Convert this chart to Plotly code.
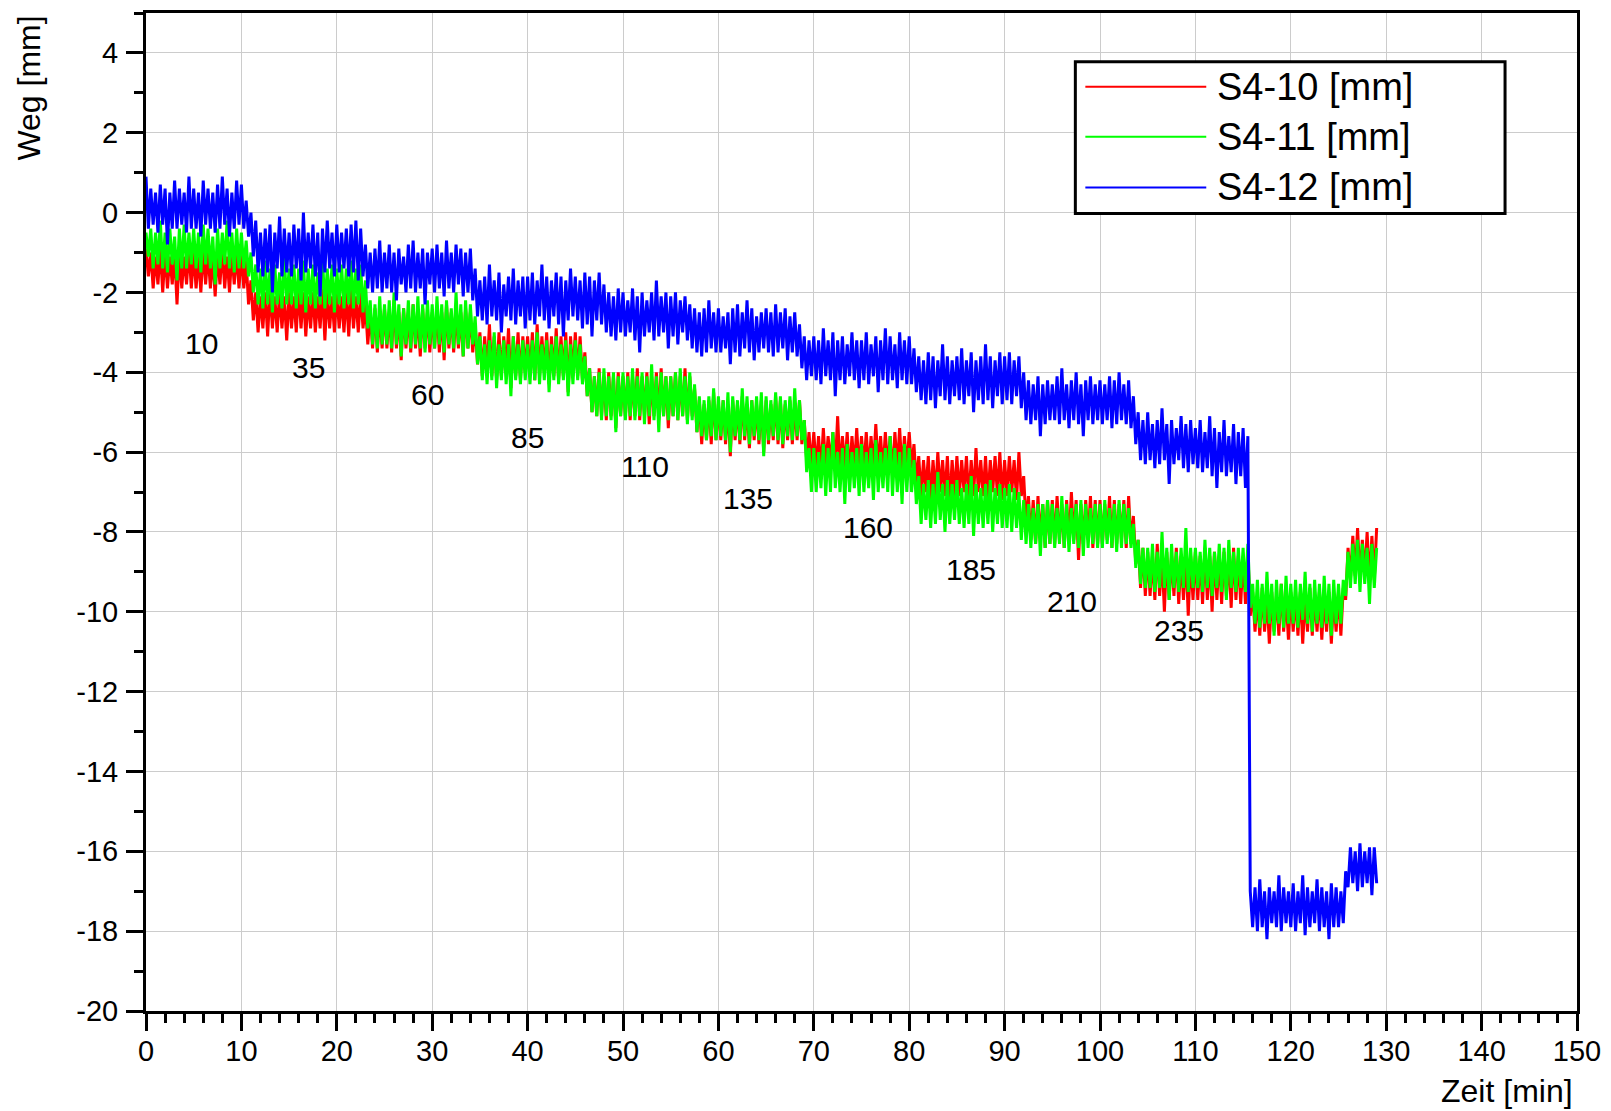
import numpy as np
import plotly.graph_objects as go

# Sampling interval of the displacement recordings (minutes)
SAMPLE_STEP_MIN = 0.25

# Displacement S4-10 [mm], one row = 5 min of samples
s4_10 = [
    -0.9, -1.6, -1.0, -1.9, -1.1, -1.8, -0.9, -2.0, -1.0, -1.9, -1.1, -1.8, -1.0, -2.3, -1.0, -1.9, -1.1, -1.8, -0.9, -1.9,
    -1.0, -1.9, -1.1, -2.0, -0.9, -1.8, -1.0, -1.9, -1.1, -2.1, -1.0, -1.8, -0.9, -1.9, -1.1, -2.0, -1.0, -1.8, -1.0, -1.9,
    -1.0, -1.9, -1.2, -2.3, -1.7, -2.7, -2.0, -3.0, -2.1, -2.9, -2.0, -3.1, -1.9, -2.9, -2.1, -3.0, -2.0, -2.9, -2.1, -3.2,
    -2.0, -2.9, -2.1, -3.0, -1.9, -2.9, -2.0, -3.1, -2.1, -2.9, -2.0, -3.0, -2.1, -2.9, -1.9, -3.2, -2.0, -2.9, -2.1, -3.0,
    -2.0, -2.9, -2.1, -3.0, -2.0, -3.1, -1.9, -2.9, -2.1, -3.0, -2.0, -2.9, -2.3, -3.3, -2.5, -3.4, -2.4, -3.5, -2.5, -3.4,
    -2.4, -3.4, -2.5, -3.5, -2.2, -3.4, -2.5, -3.7, -2.4, -3.4, -2.5, -3.5, -2.3, -3.4, -2.5, -3.6, -2.4, -3.4, -2.5, -3.5,
    -2.5, -3.4, -2.4, -3.5, -2.5, -3.7, -2.3, -3.4, -2.5, -3.5, -2.4, -3.4, -2.5, -3.6, -2.4, -3.4, -2.5, -3.5, -2.8, -3.8,
    -3.0, -4.1, -3.1, -4.0, -2.8, -4.1, -3.1, -4.2, -3.0, -4.1, -3.1, -4.0, -2.9, -4.4, -3.1, -4.1, -3.0, -4.2, -3.1, -4.0,
    -3.1, -4.1, -3.0, -4.2, -2.8, -4.1, -3.1, -4.0, -3.0, -4.3, -3.1, -4.1, -2.9, -4.2, -3.1, -4.1, -3.0, -4.5, -3.1, -4.1,
    -3.0, -4.1, -3.1, -4.2, -3.5, -4.6, -3.9, -5.0, -4.1, -5.1, -3.9, -5.1, -4.1, -5.2, -4.0, -5.1, -4.1, -5.4, -4.0, -5.1,
    -4.1, -5.1, -4.0, -5.2, -4.1, -5.1, -3.9, -5.2, -4.1, -5.1, -4.0, -5.3, -4.1, -5.1, -4.0, -5.2, -3.9, -5.1, -4.1, -5.4,
    -4.1, -5.1, -4.0, -5.2, -4.1, -5.1, -3.9, -5.2, -4.1, -5.1, -4.4, -5.5, -4.7, -5.8, -4.8, -5.7, -4.7, -5.8, -4.5, -5.7,
    -4.8, -5.7, -4.7, -5.8, -4.8, -6.1, -4.7, -5.7, -4.8, -5.8, -4.6, -5.7, -4.8, -5.9, -4.7, -5.7, -4.8, -5.8, -4.7, -6.0,
    -4.7, -5.8, -4.8, -5.7, -4.6, -5.8, -4.7, -5.9, -4.8, -5.7, -4.7, -5.8, -4.8, -5.7, -4.7, -5.8, -5.2, -6.2, -5.5, -6.4,
    -5.5, -6.4, -5.6, -6.5, -5.4, -6.4, -5.6, -6.3, -5.5, -6.4, -5.1, -6.5, -5.6, -6.4, -5.5, -6.6, -5.6, -6.4, -5.4, -6.5,
    -5.6, -6.4, -5.5, -6.5, -5.6, -6.4, -5.3, -6.4, -5.6, -6.5, -5.5, -6.4, -5.6, -6.6, -5.5, -6.4, -5.4, -6.5, -5.6, -6.4,
    -5.5, -6.4, -5.8, -6.8, -6.1, -7.1, -6.2, -7.0, -6.1, -7.2, -6.2, -7.1, -6.0, -7.0, -6.2, -7.1, -6.1, -7.3, -6.2, -7.1,
    -6.1, -7.1, -6.2, -7.0, -6.1, -7.2, -6.2, -7.1, -5.9, -7.0, -6.2, -7.1, -6.1, -7.2, -6.2, -7.0, -6.1, -7.1, -6.0, -7.2,
    -6.2, -7.1, -6.1, -7.0, -6.2, -7.2, -6.0, -7.1, -6.6, -7.8, -7.1, -8.2, -7.2, -8.3, -7.1, -8.2, -7.3, -8.4, -7.2, -8.3,
    -7.2, -8.3, -7.1, -8.2, -7.3, -8.4, -7.2, -8.3, -7.0, -8.2, -7.2, -8.7, -7.3, -8.3, -7.2, -8.2, -7.1, -8.4, -7.2, -8.3,
    -7.2, -8.3, -7.3, -8.2, -7.1, -8.4, -7.2, -8.3, -7.3, -8.2, -7.2, -8.4, -7.1, -8.3, -7.6, -8.8, -8.2, -9.4, -8.4, -9.6,
    -8.5, -9.6, -8.6, -9.7, -8.3, -9.6, -8.6, -10.0, -8.5, -9.7, -8.6, -9.6, -8.4, -9.8, -8.6, -9.7, -8.5, -10.1, -8.6, -9.7,
    -8.5, -9.7, -8.6, -9.8, -8.4, -9.7, -8.6, -10.0, -8.5, -9.7, -8.6, -9.8, -8.5, -9.6, -8.6, -9.9, -8.4, -9.7, -8.6, -9.8,
    -8.6, -9.8, -8.5, -10.1, -9.5, -10.5, -9.6, -10.6, -9.4, -10.5, -9.6, -10.8, -9.5, -10.5, -9.6, -10.6, -9.3, -10.5, -9.6, -10.7,
    -9.5, -10.5, -9.6, -10.6, -9.5, -10.8, -9.6, -10.5, -9.4, -10.6, -9.6, -10.5, -9.5, -10.7, -9.6, -10.5, -9.5, -10.8, -9.6, -10.5,
    -9.5, -10.6, -9.4, -9.7, -8.4, -9.2, -8.1, -9.1, -7.9, -9.2, -8.2, -9.1, -8.0, -9.3, -8.1, -9.2, -7.9,
]

# Displacement S4-11 [mm]
s4_11 = [
    -0.5, -1.1, -0.4, -1.4, -0.5, -1.3, -0.2, -1.4, -0.5, -1.5, -0.4, -1.3, -0.6, -1.7, -0.4, -1.4, -0.3, -1.4, -0.5, -1.3,
    -0.4, -1.4, -0.5, -1.5, -0.3, -1.3, -0.4, -1.4, -0.6, -1.8, -0.4, -1.4, -0.5, -1.3, -0.2, -1.4, -0.5, -1.5, -0.4, -1.4,
    -0.5, -1.4, -0.7, -1.6, -1.0, -2.0, -1.3, -2.3, -1.4, -2.4, -1.2, -2.3, -1.4, -2.5, -1.3, -2.3, -1.5, -2.4, -1.1, -2.3,
    -1.4, -2.3, -1.3, -2.4, -1.4, -2.3, -1.2, -2.5, -1.4, -2.3, -1.3, -2.4, -1.5, -2.3, -1.1, -2.4, -1.4, -2.3, -1.3, -2.5,
    -1.4, -2.3, -1.3, -2.4, -1.4, -2.3, -1.2, -2.4, -1.4, -2.3, -1.3, -2.5, -1.7, -2.9, -2.2, -3.3, -2.3, -3.4, -2.1, -3.3,
    -2.3, -3.3, -2.2, -3.4, -2.0, -3.3, -2.3, -3.6, -2.4, -3.3, -2.2, -3.4, -2.3, -3.3, -2.1, -3.4, -2.3, -3.5, -2.2, -3.3,
    -2.3, -3.4, -2.1, -3.3, -2.3, -3.5, -2.2, -3.3, -2.4, -3.4, -2.0, -3.3, -2.3, -3.6, -2.2, -3.4, -2.3, -3.3, -2.6, -3.8,
    -3.1, -4.2, -3.3, -4.3, -3.2, -4.2, -3.0, -4.4, -3.3, -4.2, -3.2, -4.3, -3.3, -4.6, -3.1, -4.2, -3.3, -4.3, -3.2, -4.2,
    -3.3, -4.3, -3.2, -4.2, -3.0, -4.3, -3.3, -4.2, -3.2, -4.5, -3.3, -4.2, -3.1, -4.3, -3.3, -4.2, -3.2, -4.6, -3.3, -4.3,
    -3.2, -4.2, -3.3, -4.3, -3.6, -4.6, -3.9, -5.0, -4.1, -5.1, -4.0, -5.2, -3.9, -5.1, -4.1, -5.2, -4.0, -5.5, -4.1, -5.1,
    -4.0, -5.2, -4.1, -5.1, -3.9, -5.2, -4.1, -5.1, -4.0, -5.3, -4.1, -5.1, -3.8, -5.2, -4.1, -5.5, -4.0, -5.1, -4.1, -5.2,
    -4.1, -5.1, -4.0, -5.2, -3.9, -5.1, -4.1, -5.3, -4.0, -5.2, -4.3, -5.5, -4.6, -5.6, -4.7, -5.7, -4.6, -5.6, -4.4, -5.7,
    -4.6, -5.6, -4.7, -5.7, -4.5, -6.0, -4.6, -5.6, -4.7, -5.7, -4.4, -5.6, -4.6, -5.8, -4.7, -5.6, -4.6, -5.7, -4.5, -6.1,
    -4.6, -5.7, -4.7, -5.6, -4.5, -5.7, -4.6, -5.8, -4.7, -5.6, -4.6, -5.7, -4.4, -5.6, -4.7, -5.7, -5.2, -6.5, -5.9, -7.0,
    -5.9, -7.0, -6.0, -6.9, -5.8, -7.1, -5.9, -7.0, -5.5, -6.9, -6.0, -7.0, -5.9, -7.3, -5.8, -7.0, -6.0, -6.9, -5.9, -7.1,
    -5.8, -7.0, -6.0, -6.9, -5.9, -7.2, -5.7, -7.0, -6.0, -6.9, -5.9, -7.0, -5.6, -7.1, -5.9, -7.0, -6.0, -7.3, -5.8, -7.0,
    -5.9, -7.0, -6.2, -7.3, -6.6, -7.8, -6.8, -7.7, -6.7, -7.9, -6.8, -7.8, -6.5, -7.7, -6.8, -8.0, -6.7, -7.8, -6.8, -7.7,
    -6.7, -7.8, -6.9, -7.9, -6.8, -7.8, -6.6, -8.1, -6.8, -7.8, -6.9, -7.9, -6.8, -7.8, -6.7, -8.0, -6.9, -7.8, -6.8, -7.9,
    -6.9, -7.9, -6.8, -8.0, -6.9, -7.9, -7.0, -8.2, -7.2, -8.3, -7.3, -8.4, -7.4, -8.3, -7.3, -8.6, -7.3, -8.4, -7.2, -8.3,
    -7.3, -8.4, -7.4, -8.3, -7.1, -8.4, -7.3, -8.5, -7.4, -8.3, -7.3, -8.4, -7.2, -8.6, -7.3, -8.4, -7.4, -8.3, -7.3, -8.4,
    -7.3, -8.4, -7.2, -8.3, -7.4, -8.4, -7.3, -8.5, -7.2, -8.4, -7.3, -8.3, -7.4, -8.4, -7.8, -8.9, -8.2, -9.3, -8.4, -9.4,
    -8.4, -9.4, -8.3, -9.5, -8.5, -9.4, -8.0, -9.4, -8.4, -9.7, -8.3, -9.4, -8.5, -9.5, -8.4, -9.4, -7.9, -9.5, -8.4, -9.4,
    -8.4, -9.4, -8.5, -9.5, -8.2, -9.4, -8.4, -9.6, -8.5, -9.4, -8.3, -9.5, -8.4, -9.7, -8.2, -9.4, -8.5, -9.5, -8.4, -9.4,
    -8.4, -9.5, -8.3, -9.9, -9.3, -10.3, -9.2, -10.4, -9.3, -10.3, -9.0, -10.3, -9.3, -10.6, -9.2, -10.3, -9.3, -10.4, -9.1, -10.3,
    -9.3, -10.3, -9.2, -10.4, -9.3, -10.2, -9.0, -10.3, -9.3, -10.5, -9.2, -10.3, -9.3, -10.4, -9.1, -10.3, -9.3, -10.6, -9.2, -10.3,
    -9.3, -10.3, -9.2, -9.6, -8.5, -9.4, -8.3, -9.3, -8.2, -9.5, -8.3, -9.3, -8.4, -9.8, -8.3, -9.4, -8.4,
]

# Displacement S4-12 [mm]
s4_12 = [
    0.9, -0.4, 0.6, -0.3, 0.5, -0.5, 0.7, -0.3, 0.6, -0.8, 0.5, -0.4, 0.8, -0.4, 0.6, -0.3, 0.5, -0.5, 0.9, -0.4,
    0.6, -0.4, 0.5, -0.6, 0.8, -0.3, 0.6, -0.4, 0.5, -0.5, 0.7, -0.4, 0.9, -0.3, 0.6, -0.6, 0.5, -0.4, 0.8, -0.3,
    0.7, -0.4, 0.3, -0.6, 0.0, -1.1, -0.2, -1.5, -0.5, -1.6, -0.4, -1.5, -0.3, -2.0, -0.5, -1.4, -0.1, -1.6, -0.4, -1.5,
    -0.5, -1.6, -0.3, -1.4, -0.4, -1.7, 0.0, -1.5, -0.5, -1.4, -0.3, -1.6, -0.5, -2.1, -0.4, -1.5, -0.2, -1.4, -0.5, -1.6,
    -0.3, -1.5, -0.5, -1.4, -0.4, -1.6, -0.3, -1.5, -0.2, -1.7, -0.4, -1.6, -0.8, -1.9, -1.0, -2.0, -0.9, -1.9, -0.7, -2.0,
    -1.0, -1.9, -0.8, -2.0, -1.0, -2.2, -0.9, -1.8, -1.1, -2.0, -0.8, -1.9, -0.7, -2.0, -1.0, -1.9, -0.9, -2.3, -1.0, -1.8,
    -0.9, -2.0, -0.8, -1.9, -1.0, -2.1, -0.7, -1.9, -1.0, -2.0, -0.8, -1.8, -0.9, -2.1, -1.0, -2.0, -0.9, -2.2, -1.4, -2.6,
    -1.7, -2.7, -1.6, -2.8, -1.3, -2.6, -1.7, -2.7, -1.5, -3.0, -1.8, -2.6, -1.6, -2.7, -1.4, -2.8, -1.7, -2.6, -1.6, -2.9,
    -1.6, -2.7, -1.5, -2.8, -1.7, -2.6, -1.3, -2.7, -1.6, -2.9, -1.7, -2.6, -1.5, -2.8, -1.6, -3.1, -1.7, -2.7, -1.4, -2.6,
    -1.6, -2.7, -1.7, -2.9, -1.5, -2.8, -1.6, -3.1, -1.7, -2.7, -1.5, -2.8, -1.8, -3.0, -2.0, -3.1, -2.1, -3.2, -1.9, -3.0,
    -2.0, -3.1, -2.2, -3.0, -1.9, -3.2, -2.1, -3.5, -2.0, -3.1, -2.2, -3.0, -2.0, -3.2, -1.7, -3.1, -2.1, -3.0, -2.0, -3.4,
    -2.1, -3.1, -2.0, -3.3, -2.2, -3.0, -2.1, -3.2, -2.3, -3.4, -2.4, -3.5, -2.5, -3.6, -2.4, -3.5, -2.2, -3.4, -2.5, -3.5,
    -2.4, -3.5, -2.6, -3.4, -2.5, -3.8, -2.4, -3.5, -2.3, -3.6, -2.5, -3.4, -2.2, -3.5, -2.4, -3.7, -2.6, -3.5, -2.5, -3.4,
    -2.4, -3.5, -2.5, -3.6, -2.3, -3.5, -2.5, -3.4, -2.4, -3.7, -2.6, -3.5, -2.5, -3.6, -2.8, -3.9, -3.1, -4.2, -3.2, -4.1,
    -3.1, -4.2, -3.2, -4.3, -2.9, -4.1, -3.2, -4.2, -3.0, -4.6, -3.2, -4.2, -3.1, -4.3, -3.3, -4.1, -3.0, -4.2, -3.2, -4.4,
    -3.2, -4.2, -3.0, -4.3, -3.3, -4.1, -3.1, -4.5, -3.2, -4.2, -2.9, -4.3, -3.1, -4.2, -3.3, -4.4, -3.0, -4.2, -3.2, -4.3,
    -3.1, -4.3, -3.4, -4.5, -3.6, -4.7, -3.7, -4.8, -3.5, -4.7, -3.6, -4.9, -3.7, -4.6, -3.3, -4.7, -3.6, -4.8, -3.7, -4.6,
    -3.6, -4.7, -3.4, -4.8, -3.7, -4.6, -3.5, -5.0, -3.7, -4.7, -3.6, -4.8, -3.3, -4.7, -3.6, -4.9, -3.7, -4.6, -3.5, -4.8,
    -3.6, -4.7, -3.5, -4.8, -3.7, -4.6, -3.6, -4.9, -4.0, -5.2, -4.2, -5.3, -4.3, -5.2, -4.1, -5.6, -4.3, -5.3, -4.2, -5.2,
    -4.3, -5.2, -4.1, -5.3, -3.9, -5.2, -4.3, -5.4, -4.2, -5.2, -4.0, -5.3, -4.3, -5.6, -4.2, -5.2, -4.1, -5.3, -4.3, -5.2,
    -4.2, -5.3, -4.3, -5.2, -4.1, -5.4, -4.2, -5.3, -4.0, -5.2, -4.3, -5.3, -4.2, -5.4, -4.6, -5.8, -5.0, -6.2, -5.2, -6.3,
    -5.0, -6.2, -5.3, -6.4, -5.2, -6.3, -4.9, -6.2, -5.3, -6.8, -5.2, -6.3, -5.4, -6.2, -5.1, -6.4, -5.3, -6.5, -5.2, -6.3,
    -5.4, -6.4, -5.2, -6.5, -5.5, -6.4, -5.1, -6.6, -5.4, -6.9, -5.5, -6.5, -5.2, -6.6, -5.6, -6.5, -5.3, -6.8, -5.5, -6.6,
    -5.4, -6.9, -5.6, -17.0, -17.9, -16.9, -18.0, -16.7, -17.9, -17.0, -18.2, -16.9, -17.8, -17.0, -17.9, -16.6, -18.0, -16.9, -17.8, -17.0,
    -17.9, -16.8, -18.0, -17.0, -17.8, -16.6, -18.1, -16.9, -17.9, -17.0, -17.8, -16.7, -18.0, -16.9, -17.9, -17.0, -18.2, -16.8, -17.9, -16.9,
    -17.9, -17.0, -17.8, -16.5, -16.9, -15.9, -16.8, -16.0, -17.0, -15.8, -16.9, -16.0, -16.8, -15.9, -17.1, -15.9, -16.8,
]

series_names = ["S4-10 [mm]", "S4-11 [mm]", "S4-12 [mm]"]
series_colors = ["#ff0000", "#00ff00", "#0000ff"]

# Load-step labels written next to each plateau
load_labels = ["10", "35", "60", "85", "110", "135", "160", "185", "210", "235"]
label_t = [5.8, 17.0, 29.5, 40.0, 52.3, 63.1, 75.7, 86.5, 97.1, 108.3]
label_y = [-3.28, -3.89, -4.55, -5.64, -6.35, -7.17, -7.89, -8.93, -9.74, -10.47]

x_ticks = list(range(0, 151, 10))
y_ticks = list(range(-20, 5, 2))

FONT = "Liberation Sans, Arial, sans-serif"

# Plot area in pixels (figure is 1611 x 1111)
W, H = 1611, 1111
PL, PR, PT, PB = 146, 1578, 10, 1011


def px_x(px):
    return (px - PL) / (PR - PL)


def px_y(py):
    return (PB - py) / (PB - PT)


fig = go.Figure()
for name, vals, col in zip(series_names, [s4_10, s4_11, s4_12], series_colors):
    t = np.arange(len(vals)) * SAMPLE_STEP_MIN
    fig.add_trace(go.Scatter(
        x=t, y=vals, mode="lines", name=name,
        line=dict(color=col, width=3.0, simplify=False),
        showlegend=False, hoverinfo="skip",
    ))

axis_style = dict(
    showline=True, linecolor="black", linewidth=3, mirror=True,
    ticks="outside", tickcolor="black", tickwidth=3, ticklen=17,
    showgrid=True, gridcolor="#cccccc", gridwidth=1, zeroline=False,
    tickfont=dict(family=FONT, size=29, color="black"),
)

fig.update_xaxes(
    range=[0, 150], tickmode="array", tickvals=x_ticks,
    ticktext=[str(v) for v in x_ticks], ticklabelstandoff=-5,
    minor=dict(tick0=0, dtick=2, ticks="outside", ticklen=9, tickwidth=2.5,
               tickcolor="black", showgrid=False),
    **axis_style,
)
fig.update_yaxes(
    range=[-20, 5], tickmode="array", tickvals=y_ticks,
    ticktext=[str(v) for v in y_ticks], ticklabelstandoff=2,
    minor=dict(tick0=0, dtick=1, ticks="outside", ticklen=9, tickwidth=2.5,
               tickcolor="black", showgrid=False),
    **axis_style,
)

annotations = []
for txt, tx, ty in zip(load_labels, label_t, label_y):
    annotations.append(dict(
        x=tx, y=ty, xref="x", yref="y", text=txt, showarrow=False,
        font=dict(family=FONT, size=30, color="black"),
        xanchor="center", yanchor="middle",
    ))

# Axis titles
annotations.append(dict(
    x=px_x(1576), y=px_y(1091), xref="paper", yref="paper",
    text="Zeit [min]", showarrow=False, xanchor="right", yanchor="middle",
    font=dict(family=FONT, size=32, color="black"),
))
annotations.append(dict(
    x=px_x(29), y=px_y(11), xref="paper", yref="paper",
    text="Weg [mm]", showarrow=False, textangle=-90,
    xanchor="center", yanchor="top",
    font=dict(family=FONT, size=32, color="black"),
))

# Legend box drawn as shapes + text
shapes = [dict(
    type="rect", xref="paper", yref="paper",
    x0=px_x(1076), x1=px_x(1506), y0=px_y(211), y1=px_y(59),
    line=dict(color="black", width=3), fillcolor="white", layer="above",
)]
legend_rows_y = [84, 134, 185]
for name, col, ry in zip(series_names, series_colors, legend_rows_y):
    shapes.append(dict(
        type="line", xref="paper", yref="paper",
        x0=px_x(1086), x1=px_x(1207), y0=px_y(ry), y1=px_y(ry),
        line=dict(color=col, width=2), layer="above",
    ))
    annotations.append(dict(
        x=px_x(1216), y=px_y(ry), xref="paper", yref="paper",
        text=name, showarrow=False, xanchor="left", yanchor="middle",
        font=dict(family=FONT, size=38, color="black"),
    ))

fig.update_layout(
    width=W, height=H,
    margin=dict(l=PL, r=W - PR, t=PT, b=H - PB, pad=0),
    paper_bgcolor="white", plot_bgcolor="white",
    showlegend=False,
    annotations=annotations, shapes=shapes,
    font=dict(family=FONT, color="black"),
)

fig.write_html("out.html")
